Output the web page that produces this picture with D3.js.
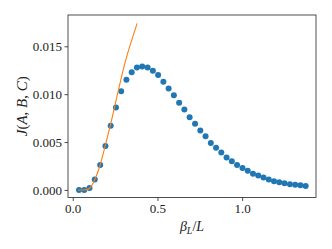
<!DOCTYPE html>
<html><head><meta charset="utf-8">
<script src="https://cdn.jsdelivr.net/npm/d3@7"></script>
<style>body{margin:0;background:#fff}svg{display:block}</style>
</head><body>
<script>
const xData = [0.037,0.068,0.099,0.130,0.162,0.193,0.224,0.255,0.286,0.317,0.348,0.379,0.410,0.442,0.473,0.504,0.535,0.566,0.597,0.628,0.659,0.690,0.722,0.753,0.784,0.815,0.846,0.877,0.908,0.939,0.970,1.002,1.033,1.064,1.095,1.126,1.157,1.188,1.219,1.250,1.282,1.313,1.344,1.375];
const yData = [0.0000,0.0000,0.0002,0.0011,0.0026,0.0046,0.0067,0.0086,0.0103,0.0115,0.0123,0.0128,0.0129,0.0128,0.01245,0.0120,0.0113,0.0106,0.0099,0.0091,0.0084,0.0076,0.0069,0.0062,0.0056,0.0049,0.0044,0.0039,0.0034,0.0030,0.0026,0.0023,0.0020,0.0017,0.0015,0.0013,0.0011,0.0009,0.0008,0.0007,0.0006,0.00055,0.0005,0.00042];
const lineX = [0.031,0.06,0.08,0.10,0.12,0.14,0.16,0.18,0.20,0.22,0.24,0.26,0.28,0.30,0.32,0.34,0.36,0.38];
const lineY = [0.0,0.0,0.00003,0.00018,0.0007,0.0015,0.0025,0.0038,0.0052,0.0066,0.0081,0.0097,0.0112,0.0127,0.0140,0.0152,0.0163,0.0174];
const xTicks = [0.0,0.5,1.0];
const yTicks = [0.000,0.005,0.010,0.015];

const W=332,H=249, L=68,R=316,T=15,B=197.5;
const svg=d3.select("body").append("svg").attr("width",W).attr("height",H);
const x=d3.scaleLinear().domain([-0.028,1.436]).range([L,R]);
const y=d3.scaleLinear().domain([-0.00079,0.01827]).range([B,T]);
const font="'Liberation Serif','DejaVu Serif',serif";

svg.append("g").attr("transform",`translate(0,${B})`)
  .call(d3.axisBottom(x).tickValues(xTicks).tickFormat(d3.format(".1f")).tickSize(3.5).tickPadding(3))
  .call(g=>{g.select(".domain").remove();g.selectAll("line").attr("stroke","#222").attr("stroke-width",0.8);
    g.selectAll("text").attr("font-family",font).attr("font-size",13).attr("fill","#222");});
svg.append("g").attr("transform",`translate(${L},0)`)
  .call(d3.axisLeft(y).tickValues(yTicks).tickFormat(d3.format(".3f")).tickSize(3.5).tickPadding(2.5))
  .call(g=>{g.select(".domain").remove();g.selectAll("line").attr("stroke","#222").attr("stroke-width",0.8);
    g.selectAll("text").attr("font-family",font).attr("font-size",13).attr("fill","#222");});

svg.append("g").selectAll("circle").data(xData).join("circle")
  .attr("cx",(d)=>x(d)).attr("cy",(d,i)=>y(yData[i])).attr("r",3).attr("fill","#1f77b4");

svg.append("path").datum(lineX.map((d,i)=>[d,lineY[i]]))
  .attr("d",d3.line().x(d=>x(d[0])).y(d=>y(d[1])).curve(d3.curveMonotoneX))
  .attr("fill","none").attr("stroke","#ff7f0e").attr("stroke-width",1.1);

svg.append("rect").attr("x",L).attr("y",T).attr("width",R-L).attr("height",B-T)
  .attr("fill","none").attr("stroke","#222").attr("stroke-width",0.8);

const xl=svg.append("text").attr("x",(L+R)/2).attr("y",231).attr("text-anchor","middle")
  .attr("font-family",font).attr("font-size",14).attr("fill","#222");
xl.append("tspan").attr("font-style","italic").text("β");
xl.append("tspan").attr("font-style","italic").attr("font-size",10).attr("dy",2.5).text("L");
xl.append("tspan").attr("dy",-2.5).text("/");
xl.append("tspan").attr("font-style","italic").text("L");

const yl=svg.append("text").attr("transform",`translate(27,${(T+B)/2}) rotate(-90)`).attr("text-anchor","middle")
  .attr("font-family",font).attr("font-size",15).attr("fill","#222");
[["J",1],["(",0],["A",1],[", ",0],["B",1],[", ",0],["C",1],[")",0]].forEach(([t,it])=>{
  yl.append("tspan").attr("font-style",it?"italic":"normal").text(t);
});
</script>
</body></html>
